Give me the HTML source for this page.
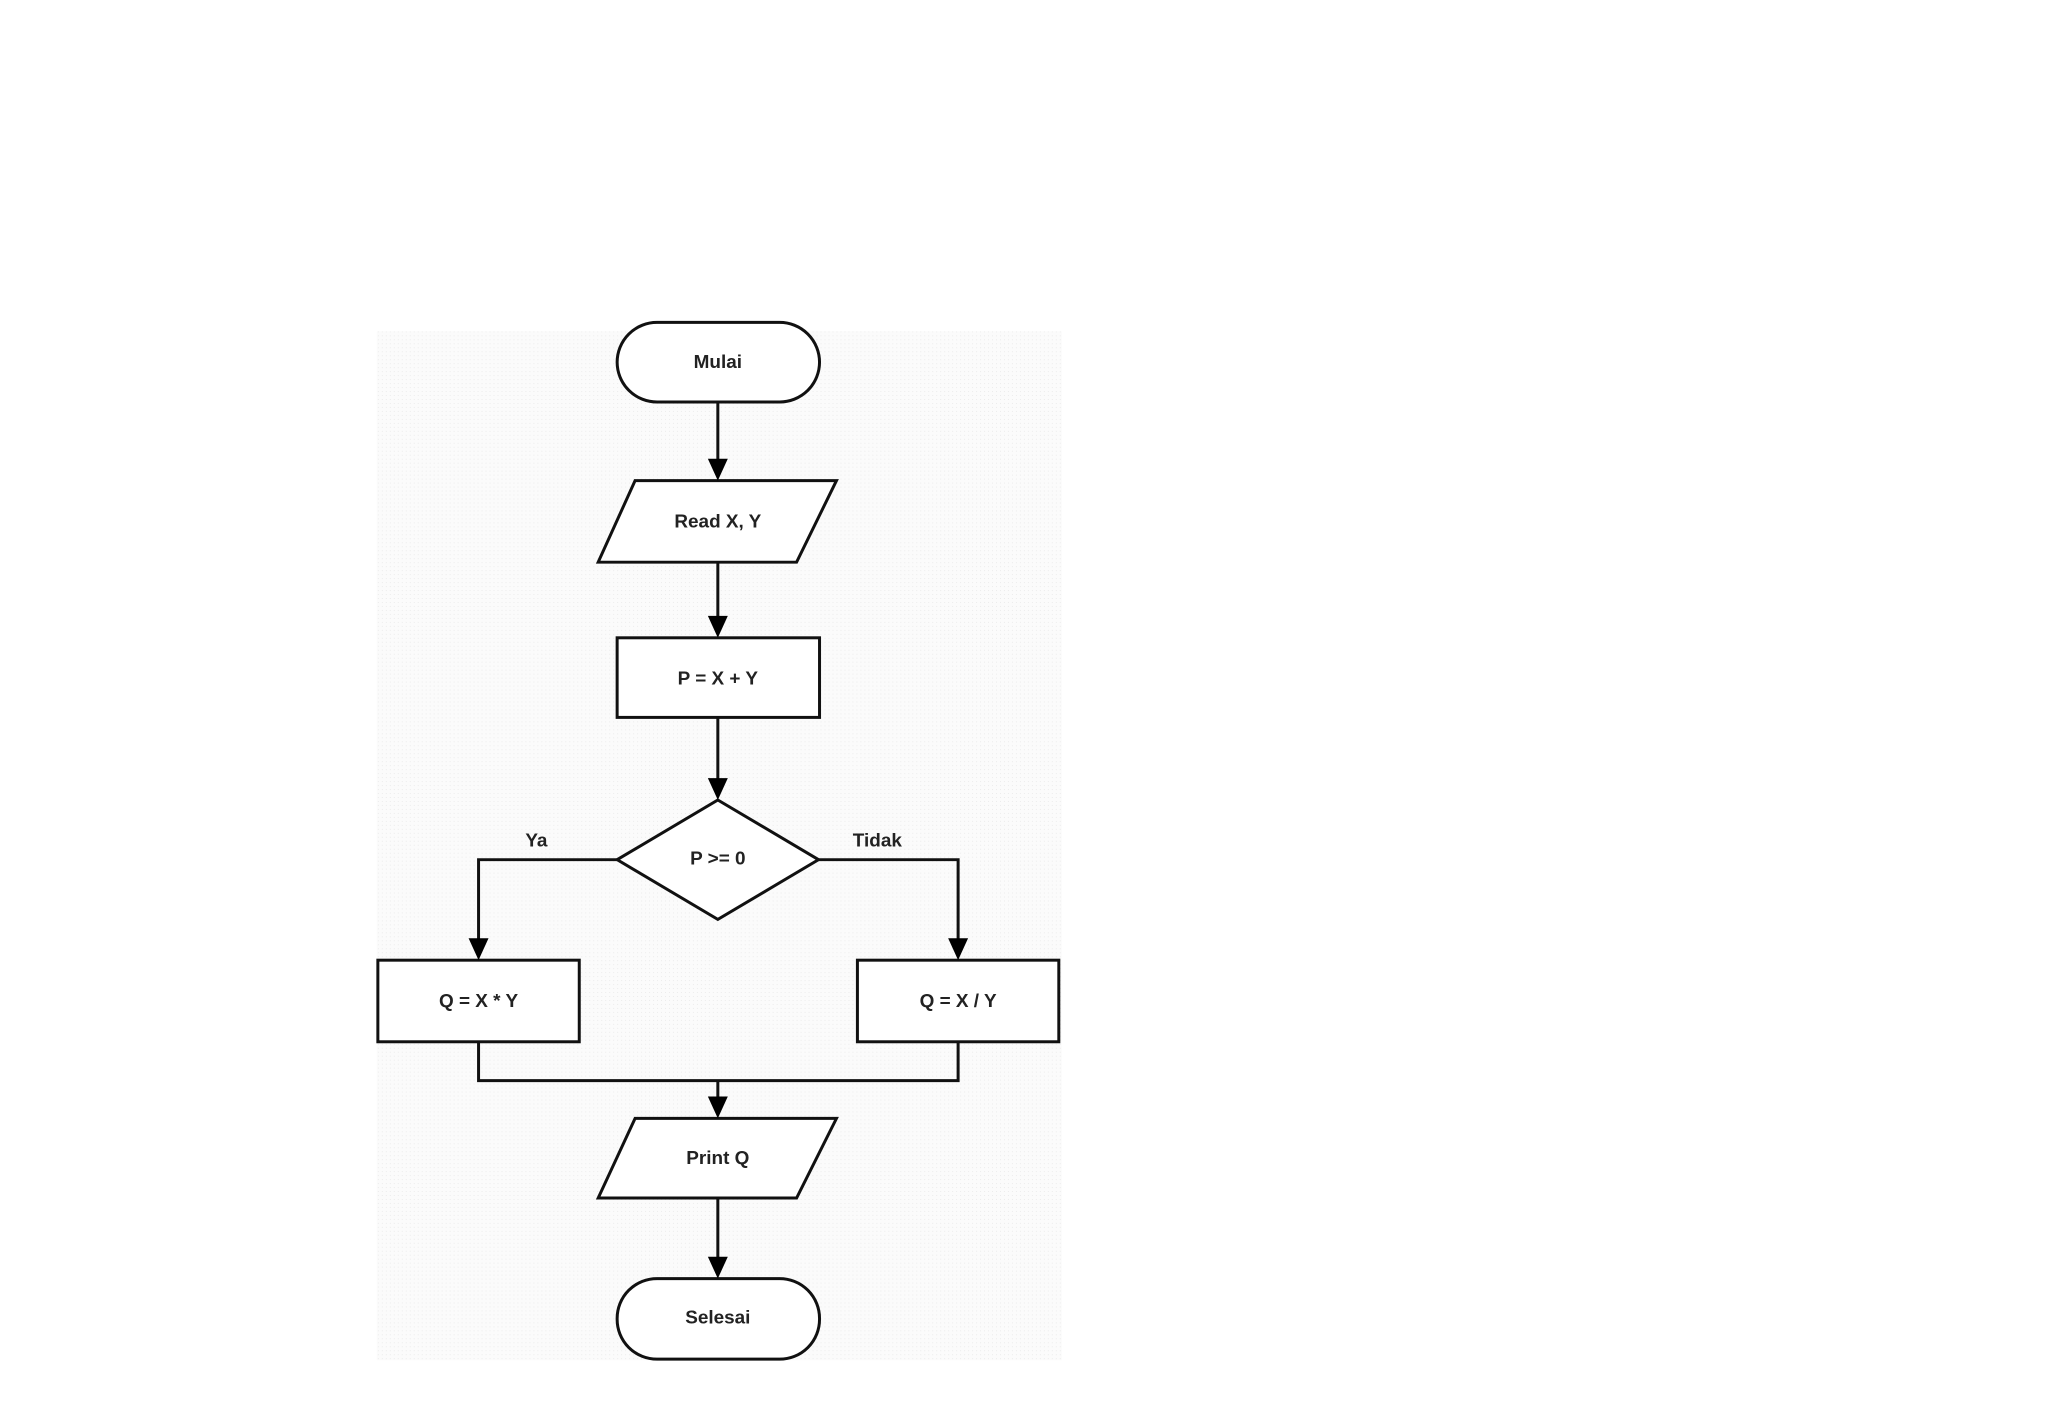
<!DOCTYPE html>
<html><head><meta charset="utf-8"><style>html,body{margin:0;padding:0;background:#fff;}svg{display:block}</style></head>
<body>
<svg width="2048" height="1405" viewBox="0 0 2048 1405" xmlns="http://www.w3.org/2000/svg">
<defs>
<pattern id="dots" width="4" height="4" patternUnits="userSpaceOnUse"><rect width="4" height="4" fill="#fbfbfb"/><rect width="1" height="1" fill="#ececec"/></pattern>
</defs>
<g transform="matrix(0.997,0,0,0.995,-1,1)">
<rect x="379" y="332" width="687" height="1034" fill="url(#dots)"/>
<g fill="none" stroke="#111" stroke-width="3">
<rect x="620" y="323" width="203" height="80" rx="40" fill="#fff"/>
<polygon points="638,482 840,482 800,564 601,564" fill="#fff"/>
<rect x="620" y="640" width="203" height="80" fill="#fff"/>
<polygon points="721,803 822,863 721,923 620,863" fill="#fff"/>
<rect x="380" y="964" width="202" height="82" fill="#fff"/>
<rect x="861" y="964" width="202" height="82" fill="#fff"/>
<polygon points="638,1123 840,1123 800,1203 601,1203" fill="#fff"/>
<rect x="620" y="1284" width="203" height="81" rx="40" fill="#fff"/>
</g>
<g stroke="#111" stroke-width="3" fill="none">
<line x1="721" y1="403" x2="721" y2="468"/>
<line x1="721" y1="564" x2="721" y2="626"/>
<line x1="721" y1="720" x2="721" y2="789"/>
<polyline points="620,863 481,863 481,950"/>
<polyline points="822,863 962,863 962,950"/>
<polyline points="481,1046 481,1085 962,1085 962,1046"/>
<line x1="721" y1="1085" x2="721" y2="1109"/>
<line x1="721" y1="1203" x2="721" y2="1270"/>
</g>
<g fill="#000">
<path d="M711,460 L731,460 L721,482 z"/>
<path d="M711,618 L731,618 L721,640 z"/>
<path d="M711,781 L731,781 L721,803 z"/>
<path d="M471,942 L491,942 L481,964 z"/>
<path d="M952,942 L972,942 L962,964 z"/>
<path d="M711,1101 L731,1101 L721,1123 z"/>
<path d="M711,1262 L731,1262 L721,1284 z"/>
</g>
<g font-family="Liberation Sans, Arial, sans-serif" font-weight="bold" font-size="19" fill="#222" text-anchor="middle">
<text x="721" y="369">Mulai</text>
<text x="721" y="529">Read X, Y</text>
<text x="721" y="687">P = X + Y</text>
<text x="721" y="868">P &gt;= 0</text>
<text x="481" y="1011">Q = X * Y</text>
<text x="962" y="1011">Q = X / Y</text>
<text x="721" y="1169">Print Q</text>
<text x="721" y="1329">Selesai</text>
<text x="539" y="850">Ya</text>
<text x="881" y="850">Tidak</text>
</g>
</g>
</svg>
</body></html>
